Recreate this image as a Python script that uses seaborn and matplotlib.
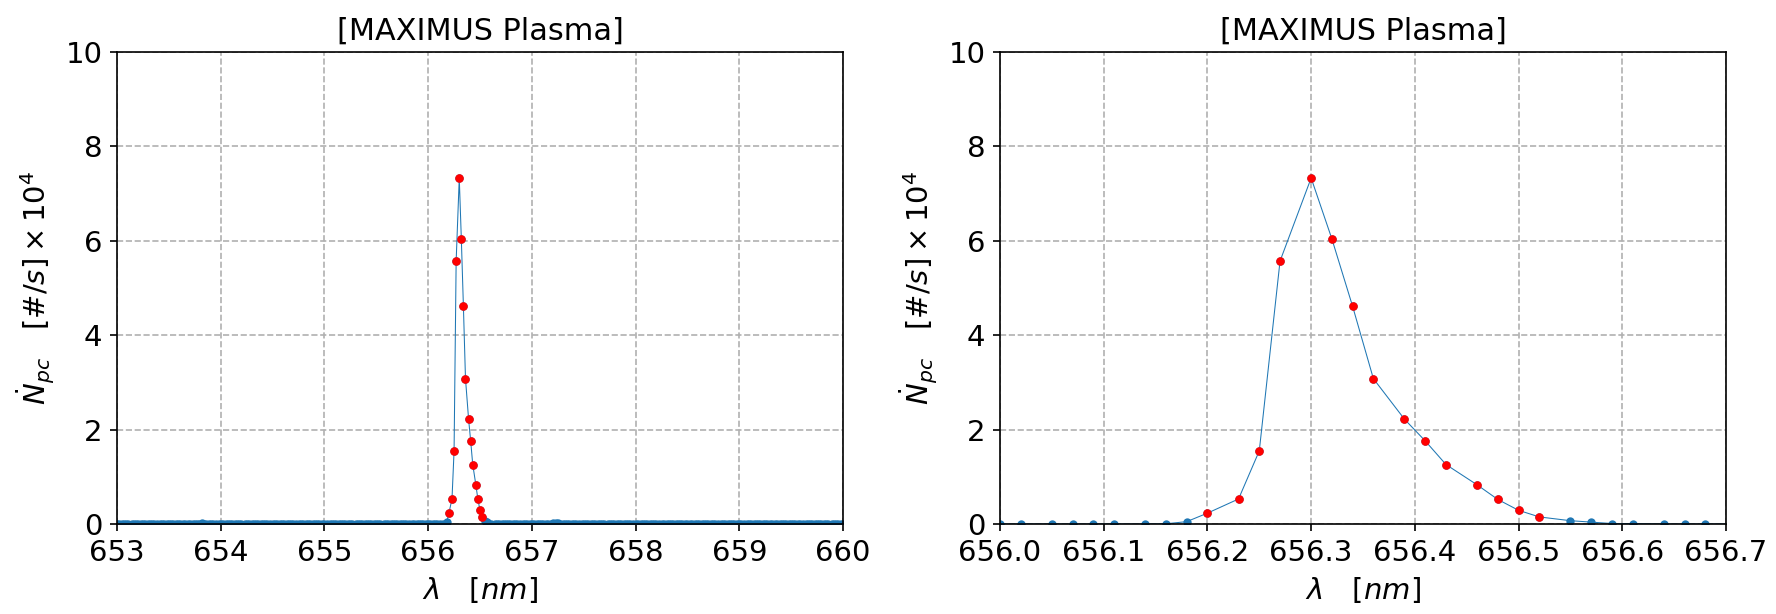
import matplotlib
matplotlib.use("Agg")
import matplotlib.pyplot as plt
import seaborn as sns
import pandas as pd

# ---------------- data ----------------
wl_653 = [653.00, 653.02, 653.05, 653.07, 653.09, 653.11, 653.14, 653.16, 653.18, 653.20, 653.23,
          653.25, 653.27, 653.30, 653.32, 653.34, 653.36, 653.39, 653.41, 653.43, 653.45, 653.48,
          653.50, 653.52, 653.54, 653.57, 653.59, 653.61, 653.64, 653.66, 653.68, 653.70, 653.73,
          653.75, 653.77, 653.79, 653.82, 653.84, 653.86, 653.89, 653.91, 653.93, 653.95, 653.98]
ct_653 = [0, 0, 0, 0, 0, 0, 0, 0, 0, 0, 0,
          0, 0, 0, 0, 0, 0, 0, 0, 0, 0, 0,
          0, 0, 0, 0, 0, 0, 0, 0, 0, 0, 0,
          0, 0, 0, 0.03, 0, 0, 0, 0, 0, 0, 0]

wl_654 = [654.00, 654.02, 654.05, 654.07, 654.09, 654.11, 654.14, 654.16, 654.18, 654.20, 654.23,
          654.25, 654.27, 654.30, 654.32, 654.34, 654.36, 654.39, 654.41, 654.43, 654.45, 654.48,
          654.50, 654.52, 654.54, 654.57, 654.59, 654.61, 654.64, 654.66, 654.68, 654.70, 654.73,
          654.75, 654.77, 654.79, 654.82, 654.84, 654.86, 654.89, 654.91, 654.93, 654.95, 654.98]
ct_654 = [0, 0, 0, 0, 0, 0, 0, 0, 0, 0, 0,
          0, 0, 0, 0, 0, 0, 0, 0, 0, 0, 0,
          0, 0, 0, 0, 0, 0, 0, 0, 0, 0, 0,
          0, 0, 0, 0, 0, 0, 0, 0, 0, 0, 0]

wl_655 = [655.00, 655.02, 655.05, 655.07, 655.09, 655.11, 655.14, 655.16, 655.18, 655.20, 655.23,
          655.25, 655.27, 655.30, 655.32, 655.34, 655.36, 655.39, 655.41, 655.43, 655.45, 655.48,
          655.50, 655.52, 655.54, 655.57, 655.59, 655.61, 655.64, 655.66, 655.68, 655.70, 655.73,
          655.75, 655.77, 655.79, 655.82, 655.84, 655.86, 655.89, 655.91, 655.93, 655.95, 655.98]
ct_655 = [0, 0, 0, 0, 0, 0, 0, 0, 0, 0, 0,
          0, 0, 0, 0, 0, 0, 0, 0, 0, 0, 0,
          0, 0, 0, 0, 0, 0, 0, 0, 0, 0, 0,
          0, 0, 0, 0, 0, 0, 0, 0, 0, 0, 0]

# H-alpha line region (as seen in the zoomed panel)
wl_656_line = [656.00, 656.02, 656.05, 656.07, 656.09, 656.11, 656.14, 656.16, 656.18, 656.20,
               656.23, 656.25, 656.27, 656.30, 656.32, 656.34, 656.36, 656.39, 656.41, 656.43,
               656.46, 656.48, 656.50, 656.52, 656.55, 656.57, 656.59, 656.61, 656.64, 656.66,
               656.68]
ct_656_line = [0, 0, 0, 0, 0, 0, 0, 0.005, 0.05, 0.23,
               0.53, 1.55, 5.57, 7.33, 6.04, 4.61, 3.08, 2.22, 1.76, 1.26,
               0.83, 0.52, 0.29, 0.15, 0.07, 0.04, 0.01, 0.01, 0, 0,
               0]

wl_656_tail = [656.71, 656.73, 656.75, 656.77, 656.79, 656.82, 656.84, 656.86, 656.89, 656.91,
               656.93, 656.95, 656.98]
ct_656_tail = [0, 0, 0, 0, 0, 0, 0, 0, 0, 0,
               0, 0, 0]

wl_657 = [657.00, 657.02, 657.05, 657.07, 657.09, 657.11, 657.14, 657.16, 657.18, 657.20, 657.23,
          657.25, 657.27, 657.30, 657.32, 657.34, 657.36, 657.39, 657.41, 657.43, 657.45, 657.48,
          657.50, 657.52, 657.54, 657.57, 657.59, 657.61, 657.64, 657.66, 657.68, 657.70, 657.73,
          657.75, 657.77, 657.79, 657.82, 657.84, 657.86, 657.89, 657.91, 657.93, 657.95, 657.98]
ct_657 = [0, 0, 0, 0, 0, 0, 0, 0, 0.01, 0.03, 0.03,
          0.03, 0.01, 0, 0, 0, 0, 0, 0, 0, 0, 0,
          0, 0, 0, 0, 0, 0, 0, 0, 0, 0, 0,
          0, 0, 0, 0, 0, 0, 0, 0, 0, 0, 0]

wl_658 = [658.00, 658.02, 658.05, 658.07, 658.09, 658.11, 658.14, 658.16, 658.18, 658.20, 658.23,
          658.25, 658.27, 658.30, 658.32, 658.34, 658.36, 658.39, 658.41, 658.43, 658.45, 658.48,
          658.50, 658.52, 658.54, 658.57, 658.59, 658.61, 658.64, 658.66, 658.68, 658.70, 658.73,
          658.75, 658.77, 658.79, 658.82, 658.84, 658.86, 658.89, 658.91, 658.93, 658.95, 658.98]
ct_658 = [0, 0, 0, 0, 0, 0, 0, 0, 0, 0, 0,
          0, 0, 0, 0, 0, 0, 0, 0, 0, 0, 0,
          0, 0, 0, 0, 0, 0, 0, 0, 0, 0, 0,
          0, 0, 0, 0, 0, 0, 0, 0, 0, 0, 0]

wl_659 = [659.00, 659.02, 659.05, 659.07, 659.09, 659.11, 659.14, 659.16, 659.18, 659.20, 659.23,
          659.25, 659.27, 659.30, 659.32, 659.34, 659.36, 659.39, 659.41, 659.43, 659.45, 659.48,
          659.50, 659.52, 659.54, 659.57, 659.59, 659.61, 659.64, 659.66, 659.68, 659.70, 659.73,
          659.75, 659.77, 659.79, 659.82, 659.84, 659.86, 659.89, 659.91, 659.93, 659.95, 659.98]
ct_659 = [0, 0, 0, 0, 0, 0, 0, 0, 0, 0, 0,
          0, 0, 0, 0, 0, 0, 0, 0, 0, 0, 0,
          0, 0, 0, 0, 0, 0, 0, 0, 0, 0, 0,
          0, 0, 0, 0, 0, 0, 0, 0, 0, 0, 0]

wl_660 = [660.00]
ct_660 = [0]

title_text = "[MAXIMUS Plasma]"
xlabel_text = r"$\lambda \quad [nm]$"
ylabel_text = r"$\dot{N}_{pc} \quad [\#/s] \times 10^4$"
left_xticks = [653, 654, 655, 656, 657, 658, 659, 660]
right_xticks = [656.0, 656.1, 656.2, 656.3, 656.4, 656.5, 656.6, 656.7]
yticks = [0, 2, 4, 6, 8, 10]
red_threshold = 0.1

# ---------------- assemble ----------------
wavelength = (wl_653 + wl_654 + wl_655 + wl_656_line + wl_656_tail
              + wl_657 + wl_658 + wl_659 + wl_660)
counts = (ct_653 + ct_654 + ct_655 + ct_656_line + ct_656_tail
          + ct_657 + ct_658 + ct_659 + ct_660)
assert len(wavelength) == len(counts)
df = pd.DataFrame({"wavelength": wavelength, "counts": counts})
df_red = df[df["counts"] > red_threshold]

# ---------------- style ----------------
plt.rcParams.update({
    "font.family": ["DejaVu Sans"],
    "font.size": 14,
    "axes.titlesize": 14.5,
    "axes.labelsize": 14,
    "xtick.labelsize": 14,
    "ytick.labelsize": 14,
    "axes.linewidth": 0.8,
    "xtick.direction": "out",
    "ytick.direction": "out",
    "xtick.major.size": 3.5,
    "ytick.major.size": 3.5,
    "axes.edgecolor": "black",
    "mathtext.fontset": "dejavusans",
})

W, H, DPI = 1777, 614, 150
fig = plt.figure(figsize=(W / DPI, H / DPI), dpi=DPI)
fig.patch.set_facecolor("white")

ax_bottom = 1 - 524 / H
ax_height = (524 - 52) / H
ax_width = (843 - 117) / W
ax_left = fig.add_axes([117 / W, ax_bottom, ax_width, ax_height])
ax_right = fig.add_axes([1000 / W, ax_bottom, (1726 - 1000) / W, ax_height])

for ax, xlim, xticks in [(ax_left, (653, 660), left_xticks),
                         (ax_right, (656.0, 656.7), right_xticks)]:
    ax.set_facecolor("white")
    sns.lineplot(data=df, x="wavelength", y="counts", ax=ax, sort=False,
                 estimator=None, color="#1f77b4", linewidth=0.5,
                 marker="o", markersize=4.0, markeredgewidth=0,
                 markeredgecolor="#1f77b4")
    sns.scatterplot(data=df_red, x="wavelength", y="counts", ax=ax,
                    color="red", s=17, linewidth=0, zorder=3)
    ax.set_xlim(*xlim)
    ax.set_ylim(0, 10)
    ax.set_xticks(xticks)
    ax.set_yticks(yticks)
    if ax is ax_right:
        ax.set_xticklabels([f"{t:.1f}" for t in xticks])
    ax.grid(True, linestyle="--", color="#b0b0b0", linewidth=0.8)
    ax.set_axisbelow(True)
    for sp in ax.spines.values():
        sp.set_visible(True)
        sp.set_color("black")
        sp.set_linewidth(0.8)
    ax.set_title(title_text, pad=6)
    ax.set_xlabel(xlabel_text)
    ax.set_ylabel(ylabel_text)

fig.savefig("out.png", dpi=DPI, facecolor="white")
